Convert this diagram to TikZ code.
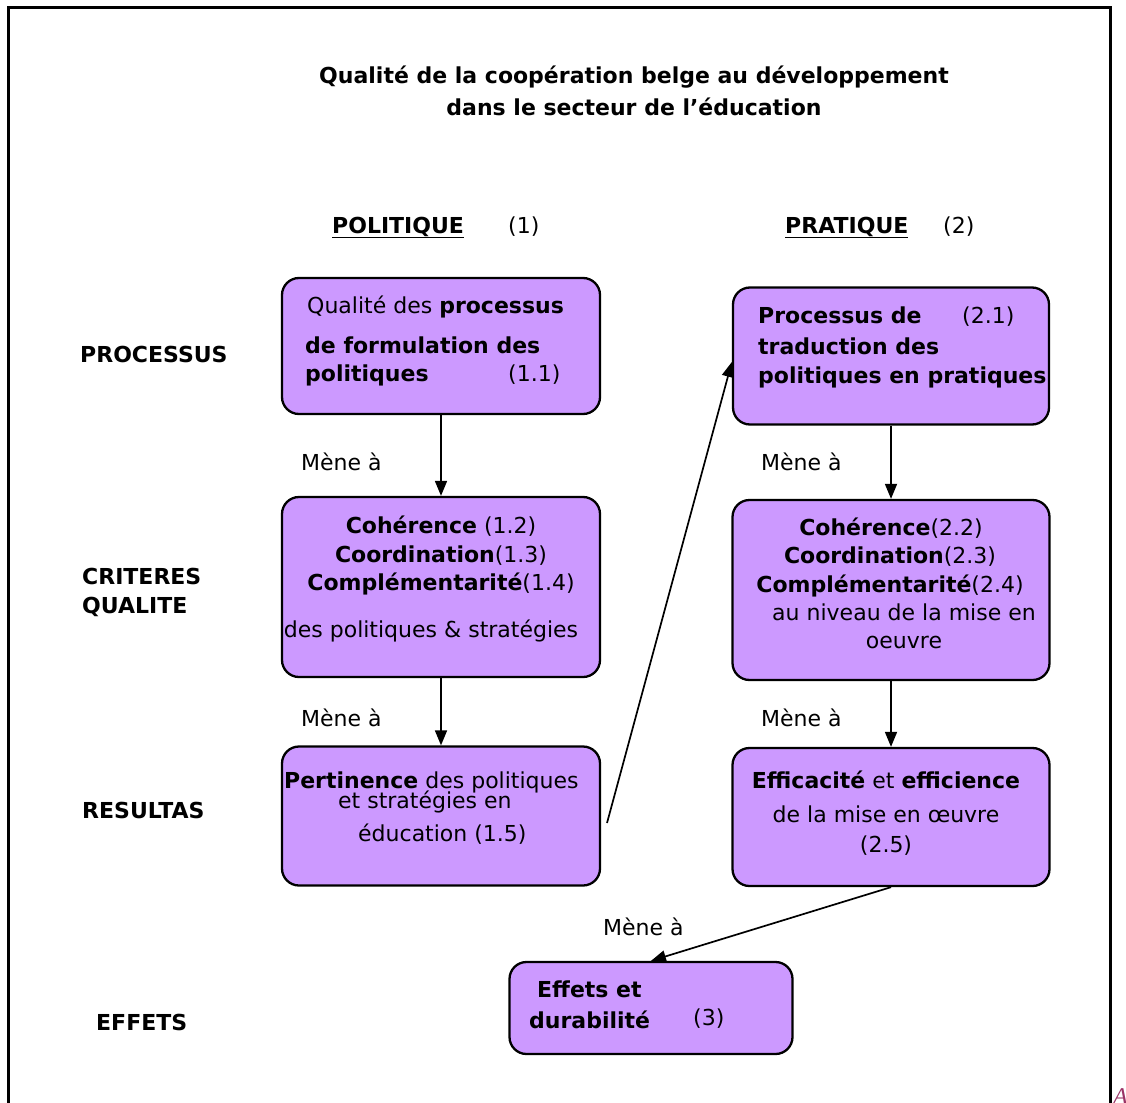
\documentclass[tikz,border=0pt]{standalone}
\usepackage{fontspec}
\setmainfont{DejaVu Sans}
\newfontfamily\serifA{Liberation Serif}
\usetikzlibrary{arrows.meta}
\definecolor{boxpurple}{HTML}{CC99FF}
\definecolor{amark}{HTML}{993366}
\newcommand{\fsz}{\fontsize{22}{29}\selectfont}
\begin{document}
\begin{tikzpicture}[x=1pt,y=-1pt,
  box/.style={draw=black, line width=2.3pt, fill=boxpurple, rounded corners=17pt, inner sep=0pt},
  txt/.style={anchor=base west, inner sep=0pt, font=\fsz},
  ctxt/.style={anchor=base, inner sep=0pt, font=\fsz},
  conn/.style={line width=1.7pt, -{Triangle[length=15pt,width=12pt]}}]
\useasboundingbox (0,0) rectangle (1126,1102);
% frame
\draw[line width=3pt] (8,1110) -- (8,8) -- (1110,8) -- (1110,1110);
\node[anchor=base west, inner sep=0pt, text=amark, font=\serifA\itshape\fontsize{24}{24}\selectfont] (amark) at (1113,1104) {A};
% title
\node[ctxt, font=\fsz\bfseries] (t1) at (634,84) {Qualité de la coopération belge au développement};
\node[ctxt, font=\fsz\bfseries] (t2) at (634,116) {dans le secteur de l’éducation};
% headers
\node[txt] (h1) at (332,233) {\textbf{\underline{POLITIQUE}}};
\node[txt] (h1n) at (508,233) {(1)};
\node[txt] (h2) at (785,233) {\textbf{\underline{PRATIQUE}}};
\node[txt] (h2n) at (943,233) {(2)};
% row labels
\node[txt, font=\fsz\bfseries] (r1) at (80,362) {PROCESSUS};
\node[txt, font=\fsz\bfseries] (r2a) at (82,584) {CRITERES};
\node[txt, font=\fsz\bfseries] (r2b) at (82,613) {QUALITE};
\node[txt, font=\fsz\bfseries] (r3) at (82,818) {RESULTAS};
\node[txt, font=\fsz\bfseries] (r4) at (96,1030) {EFFETS};
% boxes
\node[box, minimum width=318pt, minimum height=136pt] (b11) at (441,346) {};
\node[box, minimum width=316pt, minimum height=137pt] (b21) at (891,356) {};
\node[box, minimum width=318pt, minimum height=180pt] (b12) at (441,587) {};
\node[box, minimum width=317pt, minimum height=180pt] (b22) at (891,590) {};
\node[box, minimum width=318pt, minimum height=139pt] (b15) at (441,816) {};
\node[box, minimum width=317pt, minimum height=138pt] (b25) at (891,817) {};
\node[box, minimum width=283pt, minimum height=92pt] (b3) at (651,1008) {};
% box 1.1 text
\node[txt] (x11a) at (307,313) {Qualité des \textbf{processus}};
\node[txt] (x11b) at (305,353) {\textbf{de formulation des}};
\node[txt] (x11c) at (305,381) {\textbf{politiques}};
\node[txt] (x11d) at (508,381) {(1.1)};
% box 2.1 text
\node[txt] (x21a) at (758,323) {\textbf{Processus de}};
\node[txt] (x21b) at (962,323) {(2.1)};
\node[txt] (x21c) at (758,354) {\textbf{traduction des}};
\node[txt] (x21d) at (758,383) {\textbf{politiques en pratiques}};
% box 1.2 text
\node[ctxt] (x12a) at (441,533) {\textbf{Cohérence} (1.2)};
\node[ctxt] (x12b) at (441,562) {\textbf{Coordination}(1.3)};
\node[ctxt] (x12c) at (441,590) {\textbf{Complémentarité}(1.4)};
\node[ctxt] (x12d) at (431,637) {des politiques \& stratégies};
% box 2.2 text
\node[ctxt] (x22a) at (891,535) {\textbf{Cohérence}(2.2)};
\node[ctxt] (x22b) at (890,563) {\textbf{Coordination}(2.3)};
\node[ctxt] (x22c) at (890,592) {\textbf{Complémentarité}(2.4)};
\node[ctxt] (x22d) at (904,620) {au niveau de la mise en};
\node[ctxt] (x22e) at (904,648) {oeuvre};
% box 1.5 text
\node[txt] (x15a) at (284,788) {\textbf{Pertinence} des politiques};
\node[txt] (x15b) at (338,808) {et stratégies en};
\node[txt] (x15c) at (358,841) {éducation (1.5)};
% box 2.5 text
\node[ctxt] (x25a) at (886,788) {\textbf{Efficacité} et \textbf{efficience}};
\node[ctxt] (x25b) at (886,822) {de la mise en œuvre};
\node[ctxt] (x25c) at (886,852) {(2.5)};
% box 3 text
\node[txt] (x3a) at (537,997) {\textbf{Effets et}};
\node[txt] (x3b) at (529,1028) {\textbf{durabilité}};
\node[txt] (x3c) at (693,1025) {(3)};
% connector labels
\node[txt] (m1) at (301,470) {Mène à};
\node[txt] (m2) at (301,726) {Mène à};
\node[txt] (m3) at (761,470) {Mène à};
\node[txt] (m4) at (761,726) {Mène à};
\node[txt] (m5) at (603,935) {Mène à};
% connectors
\draw[conn] (b11.south) -- (b12.north);
\draw[conn] (b12.south) -- (b15.north);
\draw[conn] (b21.south) -- (b22.north);
\draw[conn] (b22.south) -- (b25.north);
\coordinate (d0) at (607,823);
\draw[conn] (d0) -- ([yshift=-6pt]b21.west);
\draw[conn] (b25.south) -- (b3.north);
\end{tikzpicture}
\end{document}
